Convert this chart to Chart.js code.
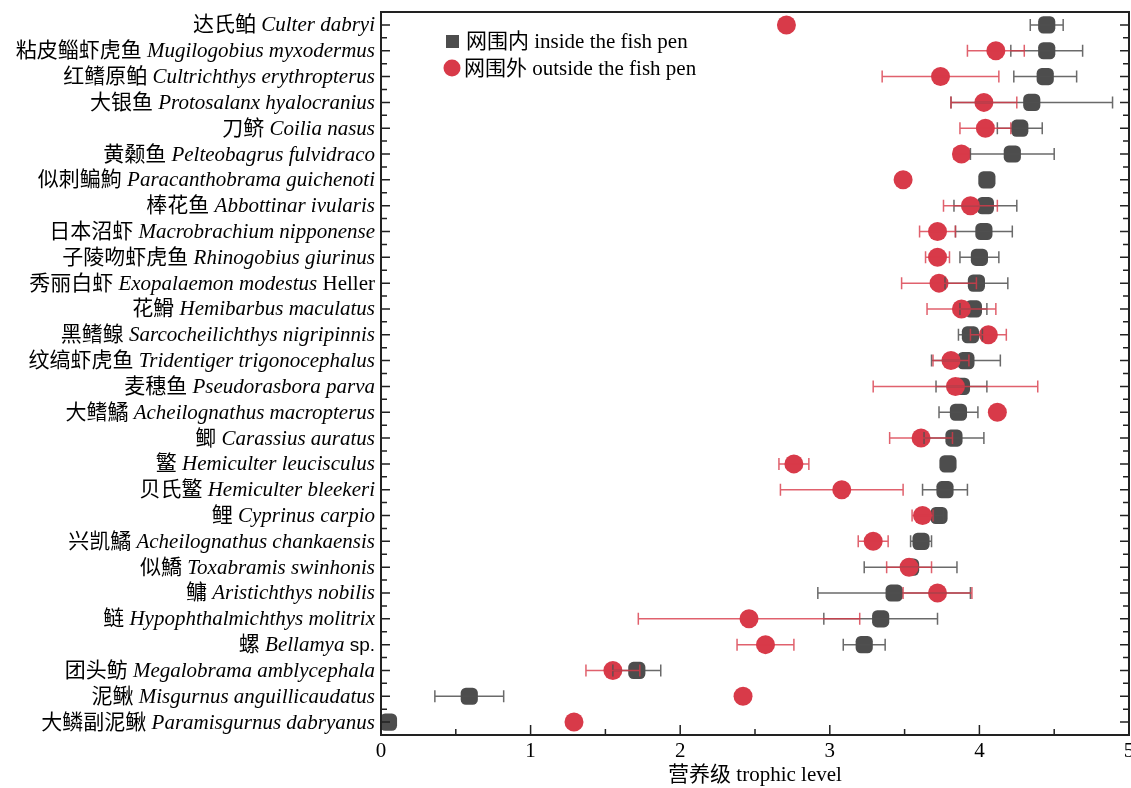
<!DOCTYPE html>
<html>
<head>
<meta charset="utf-8">
<script src="https://cdn.jsdelivr.net/npm/chart.js@4.4.1/dist/chart.umd.min.js"></script>
<style>
  html, body { margin: 0; padding: 0; background: #fff; overflow: hidden; }
  #wrap { width: 1131px; height: 788px; overflow: hidden; }
</style>
</head>
<body>
<div id="wrap"><canvas id="trophicChart" width="1139" height="788"></canvas></div>
<script>
/* ================= DATA ================= */
var zhNames = [
    "达氏鲌", "粘皮鲻虾虎鱼", "红鳍原鲌", "大银鱼", "刀鲚", "黄颡鱼", "似刺鳊鮈",
    "棒花鱼", "日本沼虾", "子陵吻虾虎鱼", "秀丽白虾", "花䱻", "黑鳍鳈", "纹缟虾虎鱼",
    "麦穗鱼", "大鳍鱊", "鲫", "鳘", "贝氏鳘", "鲤", "兴凯鱊",
    "似鱎", "鳙", "鲢", "螺", "团头鲂", "泥鳅", "大鳞副泥鳅"
];
var latinNames = [
    "Culter dabryi", "Mugilogobius myxodermus", "Cultrichthys erythropterus",
    "Protosalanx hyalocranius", "Coilia nasus", "Pelteobagrus fulvidraco",
    "Paracanthobrama guichenoti", "Abbottinar ivularis", "Macrobrachium nipponense",
    "Rhinogobius giurinus", "Exopalaemon modestus", "Hemibarbus maculatus",
    "Sarcocheilichthys nigripinnis", "Tridentiger trigonocephalus", "Pseudorasbora parva",
    "Acheilognathus macropterus", "Carassius auratus", "Hemiculter leucisculus",
    "Hemiculter bleekeri", "Cyprinus carpio", "Acheilognathus chankaensis",
    "Toxabramis swinhonis", "Aristichthys nobilis", "Hypophthalmichthys molitrix",
    "Bellamya", "Megalobrama amblycephala", "Misgurnus anguillicaudatus",
    "Paramisgurnus dabryanus"
];
var nameSuffix = [
    "", "", "", "", "", "", "", "", "", "", "Heller", "", "", "",
    "", "", "", "", "", "", "", "", "", "", "sp.", "", "", ""
];

// inside the fish pen (mean, +/-)
var insideMean = [4.45, 4.45, 4.44, 4.35, 4.27, 4.22, 4.05, 4.04, 4.03, 4.00, 3.98, 3.96, 3.94, 3.91,
    3.88, 3.86, 3.83, 3.79, 3.77, 3.73, 3.61, 3.54, 3.43, 3.34, 3.23, 1.71, 0.59, 0.05];
var insideErr = [0.11, 0.24, 0.21, 0.54, 0.15, 0.28, 0, 0.21, 0.19, 0.13, 0.21, 0.09, 0.08, 0.23,
    0.17, 0.13, 0.20, 0, 0.15, 0.03, 0.07, 0.31, 0.51, 0.38, 0.14, 0.16, 0.23, 0];

// outside the fish pen (mean, +/-)
var outsideMean = [2.71, 4.11, 3.74, 4.03, 4.04, 3.88, 3.49, 3.94, 3.72, 3.72, 3.73, 3.88, 4.06, 3.81,
    3.84, 4.12, 3.61, 2.76, 3.08, 3.62, 3.29, 3.53, 3.72, 2.46, 2.57, 1.55, 2.42, 1.29];
var outsideErr = [0, 0.19, 0.39, 0.22, 0.17, 0.05, 0, 0.18, 0.12, 0.08, 0.25, 0.23, 0.12, 0.12,
    0.55, 0, 0.21, 0.10, 0.41, 0.07, 0.10, 0.15, 0.23, 0.74, 0.19, 0.18, 0, 0];

var xTicks = [0, 1, 2, 3, 4, 5];

/* ================= STYLE ================= */
var SERIF = '"Liberation Serif", "Times New Roman", "Noto Sans CJK SC", serif';
var RED = "#d83a49";
var GRAY = "#4d4d4d";
var charts = {};

/* ================= PLUGINS ================= */
var errorBarPlugin = {
    id: "errorBars",
    afterDatasetsDraw: function (chart) {
        var ctx = chart.ctx;
        var xs = chart.scales.x;
        var ys = chart.scales.y;
        drawBars(ctx, xs, ys, insideMean, insideErr, "rgba(80,80,80,0.85)");
        drawBars(ctx, xs, ys, outsideMean, outsideErr, "rgba(216,58,73,0.8)");
    }
};

function drawBars(ctx, xs, ys, means, errs, color) {
    ctx.save();
    ctx.strokeStyle = color;
    ctx.lineWidth = 1.5;
    means.forEach(function (m, i) {
        var e = errs[i];
        if (!e) return;
        var y = ys.getPixelForValue(i);
        var x1 = xs.getPixelForValue(m - e);
        var x2 = xs.getPixelForValue(m + e);
        ctx.beginPath();
        ctx.moveTo(x1, y); ctx.lineTo(x2, y);
        ctx.moveTo(x1, y - 6); ctx.lineTo(x1, y + 6);
        ctx.moveTo(x2, y - 6); ctx.lineTo(x2, y + 6);
        ctx.stroke();
    });
    ctx.restore();
}

var framePlugin = {
    id: "frame",
    afterDraw: function (chart) {
        var ctx = chart.ctx;
        var a = chart.chartArea;
        var xs = chart.scales.x;
        var ys = chart.scales.y;
        ctx.save();
        ctx.strokeStyle = "#222";
        ctx.lineWidth = 2;
        ctx.strokeRect(a.left, a.top, a.right - a.left, a.bottom - a.top);

        // inward ticks
        ctx.lineWidth = 1.5;
        ctx.beginPath();
        for (var v = 0; v <= 5; v += 0.5) {
            var px = xs.getPixelForValue(v);
            var len = (v % 1 === 0) ? 10 : 6;
            ctx.moveTo(px, a.bottom); ctx.lineTo(px, a.bottom - len);
        }
        for (var k = 0; k <= 27.5; k += 0.5) {
            var py = ys.getPixelForValue(k);
            var l = (k % 1 === 0) ? 9 : 6;
            ctx.moveTo(a.left, py); ctx.lineTo(a.left + l, py);
            ctx.moveTo(a.right, py); ctx.lineTo(a.right - l, py);
        }
        ctx.stroke();

        // category labels: chinese + italic latin + plain suffix
        ctx.fillStyle = "#000";
        ctx.textBaseline = "middle";
        ctx.textAlign = "left";
        zhNames.forEach(function (zh, i) {
            var y = ys.getPixelForValue(i) + 1;
            var right = a.left - 6;
            var suf = nameSuffix[i];
            var sufFont = suf === "sp." ? '19px "Liberation Sans", sans-serif' : "21px " + SERIF;
            var parts = [
                { t: zh + " ", f: "21px " + SERIF },
                { t: latinNames[i], f: "italic 21px " + SERIF }
            ];
            if (suf) parts.push({ t: " " + suf, f: sufFont });
            var total = 0;
            parts.forEach(function (p) { ctx.font = p.f; p.w = ctx.measureText(p.t).width; total += p.w; });
            var x = right - total;
            parts.forEach(function (p) { ctx.font = p.f; ctx.fillText(p.t, x, y); x += p.w; });
        });

        // legend
        ctx.fillStyle = GRAY;
        ctx.fillRect(446, 35, 13, 13);
        ctx.fillStyle = RED;
        ctx.beginPath();
        ctx.arc(452, 68, 8.5, 0, Math.PI * 2);
        ctx.fill();
        ctx.fillStyle = "#000";
        ctx.font = "21px " + SERIF;
        ctx.fillText(chart.data.datasets[1].label, 466, 42);
        ctx.fillText(chart.data.datasets[0].label, 464, 69);
        ctx.restore();
    }
};

/* ================= CHART ================= */
function buildPoints(means) {
    return means.map(function (m, i) { return { x: m, y: i }; });
}

function renderChart(id, config) {
    var canvas = document.getElementById(id);
    if (!canvas) return;
    if (charts[id]) charts[id].destroy();
    charts[id] = new Chart(canvas.getContext("2d"), config);
}

renderChart("trophicChart", {
    type: "scatter",
    data: {
        datasets: [{
            label: "网围外 outside the fish pen",
            data: buildPoints(outsideMean),
            pointStyle: "circle",
            pointRadius: 9.5,
            pointHoverRadius: 9.5,
            backgroundColor: RED,
            borderWidth: 0,
            order: 0
        }, {
            label: "网围内 inside the fish pen",
            data: buildPoints(insideMean),
            pointStyle: "rectRounded",
            pointRadius: 10,
            pointHoverRadius: 10,
            backgroundColor: GRAY,
            borderWidth: 0,
            order: 1
        }]
    },
    options: {
        responsive: false,
        animation: false,
        devicePixelRatio: 1,
        layout: { padding: { top: 12, right: 3, left: 0, bottom: 0 } },
        plugins: {
            legend: { display: false },
            tooltip: { enabled: false }
        },
        scales: {
            x: {
                type: "linear",
                min: 0,
                max: 5,
                afterBuildTicks: function (scale) {
                    scale.ticks = xTicks.map(function (v) { return { value: v }; });
                },
                afterFit: function (scale) { scale.height = 53; },
                grid: { display: false, drawTicks: false },
                border: { display: false },
                ticks: { color: "#000", font: { family: SERIF, size: 21 }, padding: 4 },
                title: {
                    display: true,
                    text: "营养级 trophic level",
                    color: "#000",
                    font: { family: SERIF, size: 21 },
                    padding: { top: 0, bottom: 0 }
                }
            },
            y: {
                type: "linear",
                min: -0.5,
                max: 27.5,
                reverse: true,
                afterFit: function (scale) { scale.width = 381; },
                grid: { display: false, drawTicks: false },
                border: { display: false },
                ticks: { display: false }
            }
        }
    },
    plugins: [errorBarPlugin, framePlugin]
});
</script>
</body>
</html>
